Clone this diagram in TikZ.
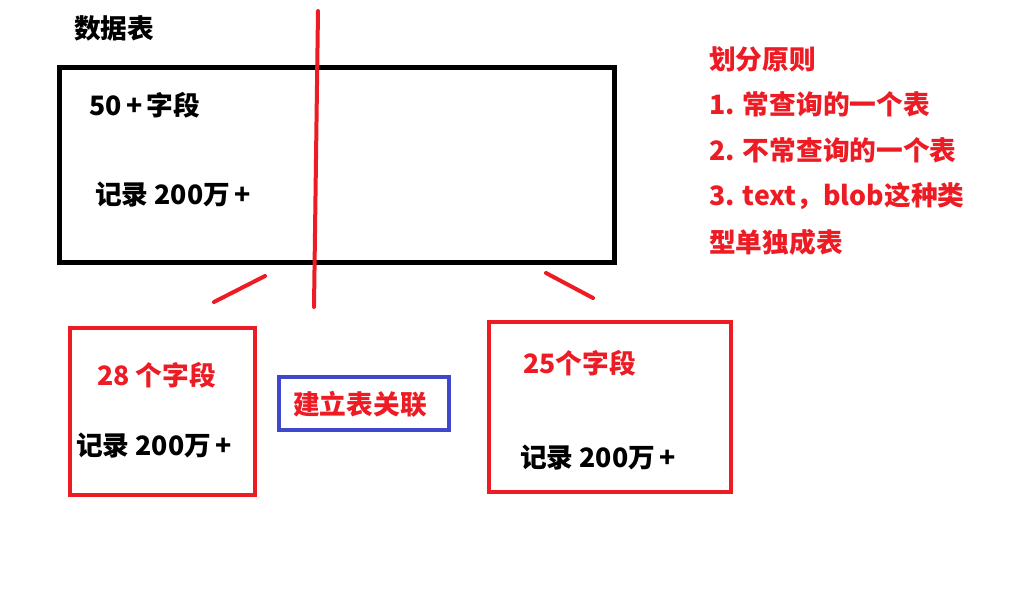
\documentclass[tikz,border=0pt]{standalone}
\usepackage{fontspec}
\setmainfont{Noto Sans CJK SC}
\definecolor{pred}{RGB}{237,28,36}
\definecolor{pblue}{RGB}{63,72,204}
\tikzset{
  txt/.style={font=\bfseries\fontsize{26.7}{30}\selectfont, inner sep=0pt, anchor=west},
  redtxt/.style={txt, text=pred},
  tablebox/.style={draw, line width=5pt, inner sep=0pt},
  partbox/.style={draw=pred, line width=4pt, inner sep=0pt},
  linkbox/.style={draw=pblue, line width=4pt, inner sep=0pt},
  stroke/.style={draw=pred, line width=4pt, line cap=round}
}
\begin{document}
\begin{tikzpicture}[x=1pt,y=-1pt]
  \useasboundingbox (0,0) rectangle (1018,604);
  % boxes
  \node[tablebox, minimum width=555pt, minimum height=195pt] (table) at (337,165) {};
  \node[partbox, minimum width=185pt, minimum height=167pt] (left) at (162.5,411.5) {};
  \node[partbox, minimum width=242pt, minimum height=170pt] (right) at (610,407) {};
  \node[linkbox, minimum width=170pt, minimum height=53pt] (link) at (364,403.5) {};
  % texts
  \node[txt] (title) at (74,28) {数据表};
  \node[txt] (fields) at (89,105) {50\,+\,字段};
  \node[txt] (rows) at (95,195) {记录 200万\,+};
  \node[redtxt] (lfields) at (97,375) {28 个字段};
  \node[txt] (lrows) at (76,446) {记录 200万\,+};
  \node[redtxt] (linktxt) at (293,404) {建立表关联};
  \node[redtxt] (rfields) at (523,363) {25个字段};
  \node[txt] (rrows) at (520,458) {记录 200万\,+};
  \node[redtxt] (rule0) at (709,59) {划分原则};
  \node[redtxt] (rule1) at (709,104) {1. 常查询的一个表};
  \node[redtxt] (rule2) at (709,150) {2. 不常查询的一个表};
  \node[redtxt] (rule3) at (709,196) {3. text，blob这种类};
  \node[redtxt] (rule4) at (709,242) {型单独成表};
  % red strokes
  \coordinate (cuttop) at (318,11);
  \coordinate (cutbot) at (314,307);
  \coordinate (la) at (265,276);
  \coordinate (lb) at (214,302);
  \coordinate (ra) at (546,273);
  \coordinate (rb) at (593,298);
  \begin{scope}
    \draw[stroke] (cuttop) -- (cutbot);
    \draw[stroke] (la) -- (lb);
    \draw[stroke] (ra) -- (rb);
  \end{scope}
\end{tikzpicture}
\end{document}
